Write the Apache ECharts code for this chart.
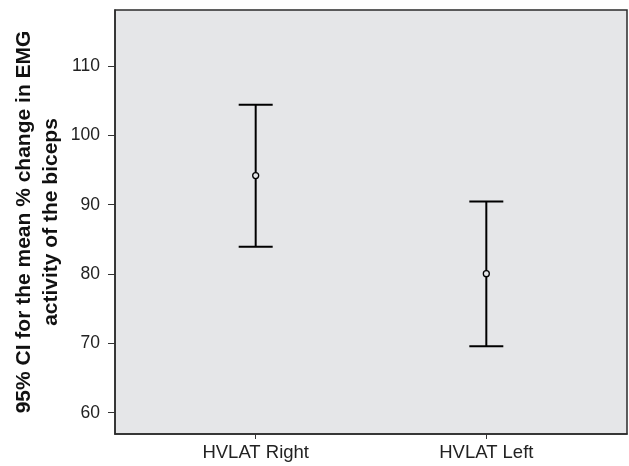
<!DOCTYPE html>
<html>
<head>
<meta charset="utf-8">
<script src="https://cdn.jsdelivr.net/npm/echarts@6/dist/echarts.min.js"></script>
<style>html,body{margin:0;padding:0;background:#fff}#c{width:629px;height:466px}</style>
</head>
<body>
<div id="c"></div>
<script>
var categories = ['HVLAT Right', 'HVLAT Left'];
var means = [94.2, 80.05];
var lower = [83.95, 69.6];
var upper = [104.4, 90.45];
var yTicks = [60, 70, 80, 90, 100, 110];
var yTitle = '95% CI for the mean % change in EMG\nactivity of the biceps';

var xPos = categories.map(function (c, i) { return i + 1; });
var barData = categories.map(function (c, i) { return [xPos[i], lower[i], upper[i], means[i]]; });
var font = 'Arial, "Liberation Sans", sans-serif';

var chart = echarts.init(document.getElementById('c'));
chart.setOption({
  animation: false,
  grid: {
    left: 115, right: 2, top: 10, bottom: 32,
    outerBoundsMode: 'none', containLabel: false,
    show: true, backgroundColor: '#e5e6e8', borderColor: '#2b2b2b', borderWidth: 1.5
  },
  xAxis: {
    type: 'value', min: 0.39, max: 2.61,
    splitLine: { show: false },
    axisLine: { show: true, lineStyle: { color: '#2b2b2b', width: 1.5 } },
    axisTick: { show: true, customValues: xPos, length: 5, lineStyle: { color: '#333' } },
    axisLabel: {
      customValues: xPos, color: '#222', fontSize: 18.5, fontFamily: font, margin: 9,
      formatter: function (v) { return categories[Math.round(v) - 1] || ''; }
    }
  },
  yAxis: {
    type: 'value', min: 56.93, max: 118.08,
    splitLine: { show: false },
    axisLine: { show: true, lineStyle: { color: '#2b2b2b', width: 1.5 } },
    axisTick: { show: true, customValues: yTicks, length: 7, lineStyle: { color: '#333' } },
    axisLabel: { customValues: yTicks, color: '#222', fontSize: 17.5, fontFamily: font, margin: 15 },
    name: yTitle, nameLocation: 'middle', nameGap: 50, nameRotate: 90, nameMoveOverlap: false,
    nameTextStyle: { fontSize: 21, fontWeight: 'bold', color: '#111', fontFamily: font, lineHeight: 27, align: 'center' }
  },
  series: [{
    type: 'custom',
    data: barData,
    encode: { x: 0, y: [1, 2, 3] },
    renderItem: function (params, api) {
      var x = api.value(0);
      var lo = api.coord([x, api.value(1)]);
      var hi = api.coord([x, api.value(2)]);
      var mid = api.coord([x, api.value(3)]);
      var hw = 17;
      var st = { stroke: '#000', lineWidth: 2, fill: null };
      return {
        type: 'group',
        children: [
          { type: 'line', shape: { x1: hi[0], y1: hi[1], x2: lo[0], y2: lo[1] }, style: st },
          { type: 'line', shape: { x1: hi[0] - hw, y1: hi[1], x2: hi[0] + hw, y2: hi[1] }, style: st },
          { type: 'line', shape: { x1: lo[0] - hw, y1: lo[1], x2: lo[0] + hw, y2: lo[1] }, style: st },
          { type: 'circle', shape: { cx: mid[0], cy: mid[1], r: 3 }, style: { stroke: '#000', lineWidth: 1.3, fill: '#e5e6e8' } }
        ]
      };
    }
  }]
});
</script>
</body>
</html>
